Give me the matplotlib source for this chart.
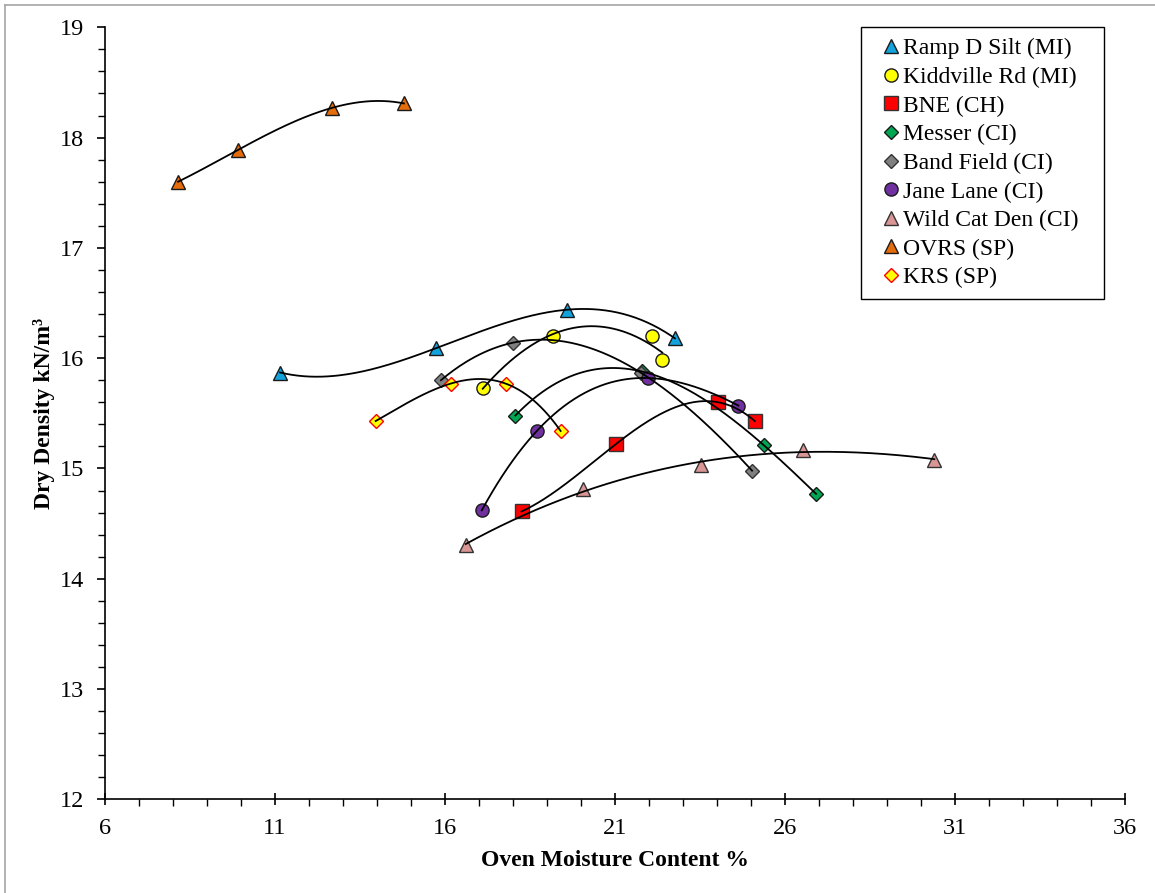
import numpy as np
import matplotlib
matplotlib.use("Agg")
import matplotlib.pyplot as plt
from matplotlib.ticker import MultipleLocator
from matplotlib.lines import Line2D
from matplotlib.legend_handler import HandlerLine2D

plt.rcParams["font.family"] = ["Liberation Serif", "DejaVu Serif"]

# ── Data ──────────────────────────────────────────────────────────────────────
ramp_x = [11.16, 15.74, 19.61, 22.77]
ramp_y = [15.87, 16.09, 16.44, 16.18]

kidd_x = [17.12, 19.19, 22.09, 22.40]
kidd_y = [15.73, 16.20, 16.20, 15.98]

bne_x = [18.26, 21.03, 24.05, 25.12]
bne_y = [14.61, 15.22, 15.60, 15.43]

messer_x = [18.08, 21.79, 25.39, 26.92]
messer_y = [15.48, 15.88, 15.21, 14.77]

band_x = [15.89, 18.00, 21.76, 25.04]
band_y = [15.80, 16.14, 15.87, 14.98]

jane_x = [17.09, 18.71, 21.99, 24.64]
jane_y = [14.62, 15.34, 15.82, 15.57]

wild_x = [16.62, 20.08, 23.54, 26.55, 30.40]
wild_y = [14.31, 14.81, 15.03, 15.17, 15.08]

ovrs_x = [8.16, 9.93, 12.69, 14.80]
ovrs_y = [17.60, 17.89, 18.27, 18.31]

krs_x = [13.97, 16.18, 17.79, 19.41]
krs_y = [15.43, 15.77, 15.77, 15.34]

x_ticks = [6, 11, 16, 21, 26, 31, 36]

# label, x, y, marker, face, edge, size, trendline order
series = [
    ("Ramp D Silt (MI)",   ramp_x,   ramp_y,   "^", "#12a3dd", "#1a1a1a", 9.5, 3),
    ("Kiddville Rd (MI)",  kidd_x,   kidd_y,   "o", "#ffff00", "#1a1a1a", 9.5, 2),
    ("BNE (CH)",           bne_x,    bne_y,    "s", "#ff0000", "#333333", 9.5, 3),
    ("Messer (CI)",        messer_x, messer_y, "D", "#00a651", "#1a1a1a", 7.5, 3),
    ("Band Field (CI)",    band_x,   band_y,   "D", "#808080", "#333333", 7.5, 3),
    ("Jane Lane (CI)",     jane_x,   jane_y,   "o", "#7030a0", "#1a1a1a", 9.5, 3),
    ("Wild Cat Den (CI)",  wild_x,   wild_y,   "^", "#d99694", "#333333", 9.5, 3),
    ("OVRS (SP)",          ovrs_x,   ovrs_y,   "^", "#e46c0a", "#1a1a1a", 9.5, 3),
    ("KRS (SP)",           krs_x,    krs_y,    "D", "#ffff00", "#ff0000", 7.5, 3),
]

fig = plt.figure(figsize=(11.55, 8.93), dpi=100)
ax = fig.add_axes([0.0906, 0.1049, 0.8832, 0.8645])

for label, xs, ys, mk, fc, ec, ms, order in series:
    ax.plot(xs, ys, linestyle="none", marker=mk, markersize=ms,
            markerfacecolor=fc, markeredgecolor=ec, markeredgewidth=1.0,
            label=label, zorder=3)
    # polynomial trendline like the spreadsheet one
    coef = np.polyfit(xs, ys, order)
    xx = np.linspace(min(xs), max(xs), 200)
    ax.plot(xx, np.polyval(coef, xx), color="black", linewidth=1.3, zorder=4)

ax.set_xlim(6, 36)
ax.set_ylim(12, 19)
ax.set_xticks(x_ticks)
ax.xaxis.set_minor_locator(MultipleLocator(1))
ax.yaxis.set_major_locator(MultipleLocator(1))
ax.yaxis.set_minor_locator(MultipleLocator(0.2))
ax.tick_params(axis="x", which="major", direction="inout", length=9, width=1.2,
               labelsize=17.5, pad=9)
ax.tick_params(axis="x", which="minor", direction="out", length=5, width=1.0)
ax.tick_params(axis="y", which="major", direction="out", length=6, width=1.2,
               labelsize=17.5, pad=9)
ax.tick_params(axis="y", which="minor", direction="out", length=5, width=1.0)

for side in ["top", "right"]:
    ax.spines[side].set_visible(False)
for side in ["left", "bottom"]:
    ax.spines[side].set_linewidth(1.2)

ax.set_xlabel("Oven Moisture Content %", fontsize=17, fontweight="bold", labelpad=8)
ax.set_ylabel("Dry Density kN/m\u00b3", fontsize=17, fontweight="bold", labelpad=3)

leg = ax.legend(loc="upper left", bbox_to_anchor=(0.7415, 0.0, 0.2385, 1.0),
                mode="expand", borderaxespad=0,
                fontsize=17, frameon=True, fancybox=False, framealpha=1,
                edgecolor="black", labelspacing=0.3, handlelength=1.05,
                handletextpad=0.28, borderpad=0.45,
                handler_map={Line2D: HandlerLine2D(numpoints=1, xpad=0.62)})
leg.get_frame().set_linewidth(1.0)

# thin grey frame round the chart area
fig.add_artist(Line2D([5 / 1155, 1.0], [1 - 5 / 893, 1 - 5 / 893],
                      transform=fig.transFigure, color="#a6a6a6", linewidth=1.2))
fig.add_artist(Line2D([5 / 1155, 5 / 1155], [0.0, 1 - 5 / 893],
                      transform=fig.transFigure, color="#a6a6a6", linewidth=1.2))

fig.savefig("out.png", dpi=100)
